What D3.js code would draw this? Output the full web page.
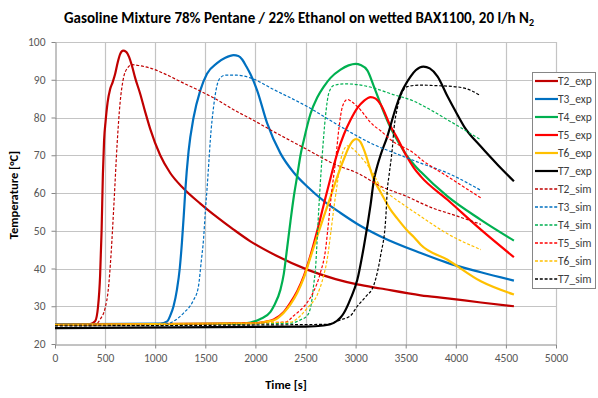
<!DOCTYPE html>
<html><head><meta charset="utf-8">
<script src="https://cdn.jsdelivr.net/npm/d3@7"></script>
<style>body{margin:0;background:#fff} text{font-family:Carlito,Lato,sans-serif}</style>
</head><body>
<svg id="c" width="598" height="398"></svg>
<script>
// ---- data ----
const seriesNames = ["T2_exp","T3_exp","T4_exp","T5_exp","T6_exp","T7_exp","T2_sim","T3_sim","T4_sim","T5_sim","T6_sim","T7_sim"];
const seriesColors = ["#C00000","#0070C0","#00B050","#FF0000","#FFC000","#000000","#C00000","#0070C0","#00B050","#FF0000","#FFC000","#000000"];
const xTicks = [0,500,1000,1500,2000,2500,3000,3500,4000,4500,5000];
const yTicks = [20,30,40,50,60,70,80,90,100];

const T2_exp = [[0,25.1],[350,25.3],[400,26],[430,30],[450,38],[465,50],[478,65],[490,74],[505,79],[525,84],[550,87.5],[575,89.3],[600,91.5],[625,94.5],[650,96.8],[680,97.7],[710,97.4],[740,96],[770,93.5],[800,90.5],[850,86.3],[900,81.5],[950,77],[1050,70],[1150,65.3],[1283,61.2],[1450,57.2],[1617,53.6],[1783,50.3],[1950,47.2],[2200,43.5],[2517,39.7],[2800,37.2],[3017,35.8],[3250,34.7],[3650,32.9],[3917,32.1],[4250,31.0],[4580,30.0]];
const T3_exp = [[0,25.2],[1050,25.4],[1120,26],[1150,27.5],[1183,30],[1217,34.4],[1245,40],[1267,47],[1285,54],[1300,60.5],[1333,71],[1383,80],[1450,87.2],[1517,91.6],[1617,94.4],[1700,95.8],[1783,96.5],[1830,96.3],[1870,95.3],[1910,93.5],[1950,91.5],[2017,87.2],[2117,78.5],[2250,70.5],[2380,65.5],[2517,61.7],[2700,57.5],[2850,54.7],[3017,51.8],[3250,48.5],[3650,44.1],[3917,41.5],[4250,39.0],[4580,36.8]];
const T4_exp = [[0,25.1],[1850,25.4],[1950,25.7],[2050,26.6],[2150,28.5],[2183,30],[2250,34.4],[2283,38.5],[2317,45.5],[2350,52.5],[2383,59],[2417,64.5],[2450,70],[2483,74],[2550,81],[2617,85.3],[2683,88.2],[2750,90.5],[2850,92.7],[2930,93.8],[3000,94.2],[3050,93.9],[3117,92.5],[3183,88.2],[3250,83.5],[3350,77.2],[3450,72.5],[3500,70.3],[3583,67.5],[3650,65.6],[3917,59.1],[4250,52.9],[4580,47.4]];
const T5_exp = [[0,25.1],[2000,25.5],[2100,25.9],[2183,26.5],[2283,28.5],[2350,31],[2417,34],[2483,38],[2550,43.5],[2617,50],[2683,57],[2750,64],[2817,70.5],[2883,75.5],[2950,79.4],[3017,82.5],[3083,84.4],[3150,85.4],[3200,85],[3250,83.5],[3350,77.6],[3417,74.5],[3500,70.2],[3583,66.6],[3650,64.4],[3917,58.2],[4250,50.3],[4580,43]];
const T6_exp = [[0,25.1],[2000,25.5],[2100,25.9],[2183,26.3],[2283,28.3],[2350,30.5],[2417,33.5],[2483,37.5],[2550,43],[2617,48.5],[2683,53.8],[2750,59],[2817,64.3],[2883,69],[2940,72.5],[2980,74],[3010,74.3],[3050,73.5],[3083,71.5],[3183,63.5],[3250,60.2],[3350,55.5],[3417,53.2],[3517,50],[3583,48.3],[3650,46.3],[3917,42.3],[4250,36.6],[4580,33.1]];
const T7_exp = [[0,24.2],[2500,24.6],[2683,24.9],[2783,25.6],[2850,27],[2883,28.2],[2950,32],[3017,37],[3083,45.9],[3150,57],[3183,63.5],[3217,67.2],[3250,70.1],[3317,75],[3383,81],[3450,86.2],[3483,88],[3550,90.9],[3600,92.5],[3677,93.5],[3740,93],[3817,90.9],[3917,85.6],[4000,81.5],[4083,77.6],[4250,72.3],[4417,67.5],[4580,63.1]];
const T2_sim = [[0,24.9],[400,25.1],[450,26.5],[500,29.5],[530,34],[560,44],[590,58],[620,73],[650,84],[680,90],[720,93],[770,94],[850,93.7],[950,93.1],[1100,91.5],[1283,89.1],[1450,87],[1617,84.7],[1800,81.8],[1950,79.7],[2200,76],[2517,71.5],[2800,67.5],[3017,65.3],[3250,61.8],[3500,59.2],[3750,56.2],[4000,54],[4250,51.7]];
const T3_sim = [[0,24.9],[1083,25.2],[1200,26.3],[1283,28.2],[1380,31.5],[1430,35],[1460,42],[1483,48],[1500,55],[1517,61],[1535,68],[1550,74],[1583,82.9],[1617,88.5],[1650,90.5],[1700,91.2],[1817,91.2],[1950,90.5],[2183,87.4],[2517,82.9],[2850,77.6],[3183,72.8],[3417,70.3],[3650,67.9],[3917,65.3],[4250,60.7]];
const T4_sim = [[0,24.9],[2350,25.5],[2450,26.4],[2517,27.5],[2560,31],[2583,36],[2600,40],[2617,48],[2633,56],[2650,63.5],[2667,70],[2700,80.5],[2733,86.5],[2783,88.5],[2900,88.9],[3017,88.7],[3183,87.8],[3350,86.3],[3583,84.3],[3750,82],[3917,79.4],[4250,74.1]];
const T5_sim = [[0,24.9],[2300,25.8],[2383,27.5],[2517,31],[2583,34],[2650,39],[2700,45],[2725,51],[2760,60],[2800,68.5],[2833,77],[2870,83],[2917,84.8],[2960,84.2],[3017,82.9],[3183,77.8],[3250,76.5],[3350,74.1],[3583,70.5],[3650,69],[3917,64.4],[4250,58.7]];
const T6_sim = [[0,24.9],[2350,25.8],[2450,27.5],[2517,29.5],[2617,33],[2680,38],[2717,42.5],[2750,49],[2783,56],[2820,63],[2850,68.5],[2890,71.8],[2920,72.5],[2960,72],[3017,70.6],[3183,64.8],[3250,61.5],[3350,59.3],[3500,56.5],[3650,53.8],[3917,49.2],[4250,45]];
const T7_sim = [[0,24.8],[2700,25.2],[2850,26.4],[2950,27.5],[3017,30],[3100,32.5],[3183,35.7],[3250,43.5],[3300,53],[3317,61],[3333,64.5],[3367,72],[3383,77],[3417,82.5],[3450,85.6],[3517,88.2],[3650,88.6],[3750,88.5],[4017,88.1],[4150,87.2],[4233,86]];
const seriesData = [T2_exp,T3_exp,T4_exp,T5_exp,T6_exp,T7_exp,T2_sim,T3_sim,T4_sim,T5_sim,T6_sim,T7_sim];

// ---- chart ----
const svg = d3.select("#c");
svg.append("rect").attr("width",598).attr("height",398).attr("fill","#fff");
const x = d3.scaleLinear().domain([0,5000]).range([55,556]);
const y = d3.scaleLinear().domain([20,100]).range([344,42]);

const grid = svg.append("g");
grid.selectAll("line.v").data(xTicks.slice(1)).join("line")
  .attr("x1",d=>Math.round(x(d))+0.5).attr("x2",d=>Math.round(x(d))+0.5)
  .attr("y1",y(20)).attr("y2",y(100)).attr("stroke","#c4c4c4").attr("stroke-width",1.2);
grid.selectAll("line.h").data(yTicks.slice(1)).join("line")
  .attr("x1",x(0)).attr("x2",x(5000))
  .attr("y1",d=>Math.round(y(d))+0.5).attr("y2",d=>Math.round(y(d))+0.5).attr("stroke","#c4c4c4").attr("stroke-width",1.2);

const ax = svg.append("g").attr("transform",`translate(0,${Math.round(y(20))+0.5})`)
  .call(d3.axisBottom(x).tickValues(xTicks).tickSize(4).tickSizeOuter(0).tickPadding(5).tickFormat(d3.format("d")));
const ay = svg.append("g").attr("transform",`translate(${Math.round(x(0))+0.5},0)`)
  .call(d3.axisLeft(y).tickValues(yTicks).tickSize(4).tickSizeOuter(0).tickPadding(6));
[ax,ay].forEach(g=>{
  g.select(".domain").attr("stroke","#868686");
  g.selectAll(".tick line").attr("stroke","#868686");
  g.selectAll(".tick text").attr("fill","#595959").style("font-size","11.5px").style("font-family","Carlito,Lato,sans-serif");
});

const line = d3.line().x(d=>x(d[0])).y(d=>y(d[1])).curve(d3.curveMonotoneX);
svg.append("g").selectAll("path").data(seriesData).join("path")
  .attr("d",line).attr("fill","none")
  .attr("stroke",(d,i)=>seriesColors[i])
  .attr("stroke-width",(d,i)=>i<6?2.2:1.2)
  .attr("stroke-dasharray",(d,i)=>i<6?null:"3,1.8")
  .attr("stroke-linejoin","round");

// legend
const lg = svg.append("g");
lg.append("rect").attr("x",532.5).attr("y",72.5).attr("width",63).attr("height",216)
  .attr("fill","#fff").attr("stroke","#868686");
const items = lg.selectAll("g.item").data(seriesNames).join("g").attr("class","item")
  .attr("transform",(d,i)=>`translate(0,${81+i*18})`);
items.append("line").attr("x1",535).attr("x2",558).attr("y1",0).attr("y2",0)
  .attr("stroke",(d,i)=>seriesColors[i])
  .attr("stroke-width",(d,i)=>i<6?2.2:1.5)
  .attr("stroke-dasharray",(d,i)=>i<6?null:"3,1.8");
items.append("text").attr("x",558).attr("y",4).text(d=>d)
  .attr("fill","#404040").style("font-size","11.5px");

// titles
const title = svg.append("text").attr("x",299).attr("y",23).attr("text-anchor","middle")
  .style("font-weight","bold").style("font-size","15px").attr("fill","#000");
title.append("tspan").text("Gasoline Mixture 78% Pentane / 22% Ethanol on wetted BAX1100, 20 l/h N");
title.append("tspan").text("2").style("font-size","10px").attr("dy",3);

svg.append("text").attr("x",286).attr("y",389).attr("text-anchor","middle")
  .style("font-weight","bold").style("font-size","12.5px").text("Time [s]");
svg.append("text").attr("transform","translate(18,195) rotate(-90)").attr("text-anchor","middle")
  .style("font-weight","bold").style("font-size","12.5px").text("Temperature [°C]");
</script>
</body></html>
